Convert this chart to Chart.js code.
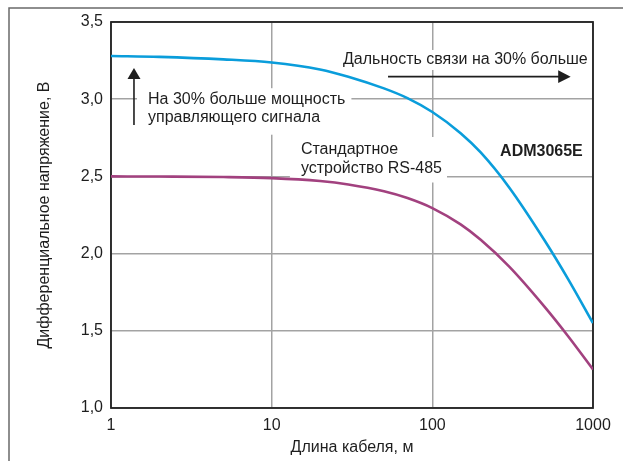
<!DOCTYPE html>
<html>
<head>
<meta charset="utf-8">
<script src="https://cdn.jsdelivr.net/npm/chart.js@4.4.1/dist/chart.umd.min.js"></script>
<style>
  html, body { margin: 0; padding: 0; background: #fff; }
  canvas { display: block; }
</style>
</head>
<body>
<canvas id="chart" width="623" height="461"></canvas>
<script>
// Cable length, m (log axis)
const cableLength = [1, 2, 5, 10, 20, 30, 50, 70, 100, 150, 200, 300, 500, 700, 1000];
// Differential output voltage, V
const admVoltage   = [3.28, 3.274, 3.258, 3.238, 3.193, 3.146, 3.07, 3.007, 2.917, 2.78, 2.655, 2.43, 2.085, 1.835, 1.55];
const rs485Voltage = [2.50, 2.499, 2.496, 2.489, 2.47, 2.448, 2.404, 2.36, 2.295, 2.189, 2.089, 1.917, 1.655, 1.465, 1.25];
const xTicks = [1, 10, 100, 1000];
const yTicks = [1.0, 1.5, 2.0, 2.5, 3.0, 3.5];

const FONT = '"Liberation Sans", Arial, Helvetica, sans-serif';
const FONT_SIZE = 16;
const INK = '#1e1e1e';

const toPoints = (xs, ys) => xs.map((x, i) => ({ x, y: ys[i] }));

// Callout texts, anchored in data units (m, V)
const notes = {
  power:  { x: 1.7,  y: 3.0,   lines: ['На 30% больше мощность', 'управляющего сигнала'], pad: [11, 6, 11, 17] },
  range:  { x: 27.8, y: 3.254, lines: ['Дальность связи на 30% больше'], pad: [3, 3, 10, 10] },
  std:    { x: 15.2, y: 2.671, lines: ['Стандартное', 'устройство RS-485'], pad: [11, 5, 13, 14] },
  adm:    { x: 264,  y: 2.658, lines: ['ADM3065E'], bold: true }
};
const upArrow    = { x: 1.39, from: 2.833, to: 3.202 };
const rightArrow = { y: 3.146, from: 53, to: 726 };
const LINE_GAP = 18.5;

function noteFont(n) { return (n.bold ? 'bold ' : '') + FONT_SIZE + 'px ' + FONT; }

const decor = {
  id: 'decor',
  beforeDatasetsDraw(chart) {
    const { ctx, chartArea: a, scales: { x, y } } = chart;
    ctx.save();
    // white backing behind callouts so grid lines break around them
    ctx.fillStyle = '#fff';
    for (const key of ['power', 'range', 'std']) {
      const n = notes[key];
      ctx.font = noteFont(n);
      const px = x.getPixelForValue(n.x), py = y.getPixelForValue(n.y);
      const w = Math.max(...n.lines.map(l => ctx.measureText(l).width));
      const [pl, pr, pt, pb] = n.pad;
      const h = (n.lines.length - 1) * LINE_GAP;
      ctx.fillRect(px - pl, py - pt, w + pl + pr, h + pt + pb);
    }
    // plot frame
    ctx.strokeStyle = '#222';
    ctx.lineWidth = 1.8;
    ctx.strokeRect(a.left, a.top, a.right - a.left, a.bottom - a.top);
    ctx.restore();
  },
  afterDatasetsDraw(chart) {
    const { ctx, scales: { x, y } } = chart;
    ctx.save();
    ctx.fillStyle = INK;
    ctx.textBaseline = 'middle';
    ctx.textAlign = 'left';
    for (const n of Object.values(notes)) {
      ctx.font = noteFont(n);
      const px = x.getPixelForValue(n.x), py = y.getPixelForValue(n.y);
      n.lines.forEach((l, i) => ctx.fillText(l, px, py + i * LINE_GAP));
    }
    // arrows
    ctx.strokeStyle = INK;
    ctx.lineWidth = 1.6;
    const ax = x.getPixelForValue(upArrow.x);
    const ay0 = y.getPixelForValue(upArrow.from), ay1 = y.getPixelForValue(upArrow.to);
    ctx.beginPath(); ctx.moveTo(ax, ay0); ctx.lineTo(ax, ay1 + 9); ctx.stroke();
    ctx.beginPath(); ctx.moveTo(ax, ay1); ctx.lineTo(ax - 6.5, ay1 + 11); ctx.lineTo(ax + 6.5, ay1 + 11); ctx.closePath(); ctx.fill();

    const hy = y.getPixelForValue(rightArrow.y);
    const hx0 = x.getPixelForValue(rightArrow.from), hx1 = x.getPixelForValue(rightArrow.to);
    ctx.beginPath(); ctx.moveTo(hx0, hy); ctx.lineTo(hx1 - 10, hy); ctx.stroke();
    ctx.beginPath(); ctx.moveTo(hx1, hy); ctx.lineTo(hx1 - 12.5, hy - 6.3); ctx.lineTo(hx1 - 12.5, hy + 6.3); ctx.closePath(); ctx.fill();
    ctx.restore();
  },
  afterDraw(chart) {
    // outer figure frame (left and top edges)
    const { ctx, width, height } = chart;
    ctx.save();
    ctx.strokeStyle = '#6a6a6a';
    ctx.lineWidth = 1.5;
    ctx.beginPath();
    ctx.moveTo(9, height);
    ctx.lineTo(9, 8);
    ctx.lineTo(width, 8);
    ctx.stroke();
    ctx.restore();
  }
};

new Chart(document.getElementById('chart'), {
  type: 'line',
  data: {
    datasets: [
      {
        label: 'ADM3065E',
        data: toPoints(cableLength, admVoltage),
        borderColor: '#0a9ddb',
        borderWidth: 2.6,
        pointRadius: 0,
        cubicInterpolationMode: 'monotone',
        fill: false
      },
      {
        label: 'RS-485',
        data: toPoints(cableLength, rs485Voltage),
        borderColor: '#a2417f',
        borderWidth: 2.6,
        pointRadius: 0,
        cubicInterpolationMode: 'monotone',
        fill: false
      }
    ]
  },
  options: {
    responsive: false,
    animation: false,
    devicePixelRatio: 1,
    layout: { padding: { left: 0, right: 30, top: 22, bottom: 0 } },
    plugins: { legend: { display: false }, tooltip: { enabled: false } },
    scales: {
      x: {
        type: 'logarithmic',
        min: 1, max: 1000,
        afterBuildTicks(scale) { scale.ticks = xTicks.map(v => ({ value: v })); },
        afterFit(scale) { scale.height = 53; },
        ticks: {
          autoSkip: false, maxRotation: 0, padding: 8,
          color: INK, font: { family: FONT, size: FONT_SIZE },
          callback: v => String(v)
        },
        grid: { color: '#a3a3a3', lineWidth: 1.5, drawTicks: false },
        border: { display: false },
        title: {
          display: true, text: 'Длина кабеля, м', color: INK,
          font: { family: FONT, size: FONT_SIZE }, padding: { top: 0, bottom: 4 }
        }
      },
      y: {
        min: 1.0, max: 3.5,
        afterBuildTicks(scale) { scale.ticks = yTicks.map(v => ({ value: v })); },
        afterFit(scale) { scale.width = 111; },
        ticks: {
          padding: 8, color: INK, font: { family: FONT, size: FONT_SIZE },
          callback: v => v.toFixed(1).replace('.', ',')
        },
        grid: { color: '#a3a3a3', lineWidth: 1.5, drawTicks: false },
        border: { display: false },
        title: {
          display: true, text: 'Дифференциальное напряжение, В', color: INK,
          font: { family: FONT, size: FONT_SIZE }, padding: { top: 35.4, bottom: 0 }
        }
      }
    }
  },
  plugins: [decor]
});
</script>
</body>
</html>
